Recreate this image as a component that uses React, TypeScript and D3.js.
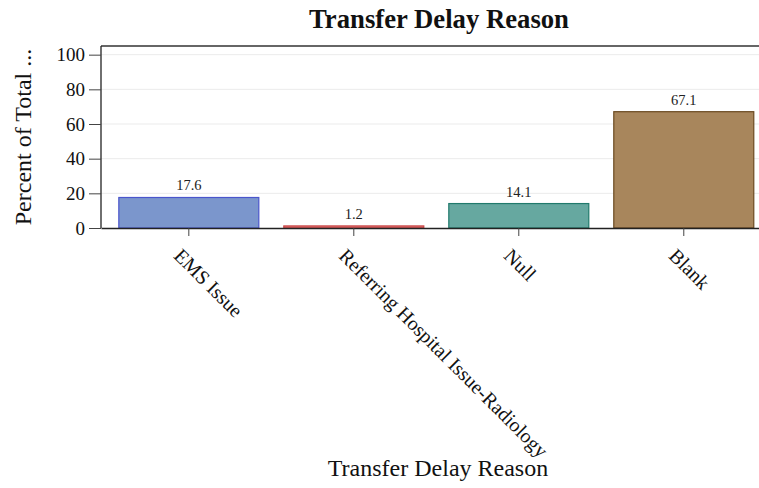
import { axisBottom, axisLeft, scaleBand, scaleLinear, select } from 'd3';
import React, { useEffect, useRef } from 'react';

const categories = ['EMS Issue', 'Referring Hospital Issue-Radiology', 'Null', 'Blank'];
const percents = [17.6, 1.2, 14.1, 67.1];
const yTicks = [0, 20, 40, 60, 80, 100];
const fills = ['#7b96cc', '#e07070', '#66a8a0', '#a8865c'];
const strokes = ['#4a55cc', '#c84545', '#217a6c', '#6b4a20'];

const W = 759;
const H = 488;
const margin = { left: 101, top: 46, bottom: 228, right: 771.6 };
const FONT = '"Liberation Serif", "Times New Roman", serif';

const App = () => {
  const svgRef = useRef<SVGSVGElement>(null);

  useEffect(() => {
    const svg = select(svgRef.current);

    const xScale = scaleBand()
      .domain(categories)
      .range([margin.left, margin.right])
      .paddingInner(0.1515)
      .paddingOuter(0.108);

    const yScale = scaleLinear().domain([0, 105]).range([margin.bottom, margin.top]);

    // grid
    svg
      .select('.grid')
      .selectAll('line')
      .data(yTicks.filter((t) => t > 0))
      .join('line')
      .attr('x1', margin.left)
      .attr('x2', margin.right)
      .attr('y1', (d) => yScale(d))
      .attr('y2', (d) => yScale(d))
      .attr('stroke', '#ebebeb')
      .attr('stroke-width', 1);

    // top border
    svg
      .select('.frame')
      .attr('x1', margin.left)
      .attr('x2', margin.right)
      .attr('y1', margin.top)
      .attr('y2', margin.top)
      .attr('stroke', '#333')
      .attr('stroke-width', 1.3);

    // bars
    svg
      .select('.bars')
      .selectAll('rect')
      .data(percents)
      .join('rect')
      .attr('x', (v, i) => xScale(categories[i]))
      .attr('y', (v) => yScale(v))
      .attr('width', xScale.bandwidth())
      .attr('height', (v) => yScale(0) - yScale(v))
      .attr('fill', (v, i) => fills[i])
      .attr('stroke', (v, i) => strokes[i])
      .attr('stroke-width', 1.2);

    svg
      .select('.values')
      .selectAll('text')
      .data(percents)
      .join('text')
      .attr('x', (v, i) => xScale(categories[i]) + xScale.bandwidth() / 2)
      .attr('y', (v) => yScale(v) - 7)
      .attr('text-anchor', 'middle')
      .attr('font-size', 14.5)
      .attr('font-family', FONT)
      .attr('fill', '#222')
      .text((v) => v.toFixed(1));

    const yAxis = axisLeft(yScale).tickValues(yTicks).tickSize(12).tickPadding(4);
    const yG = svg
      .select('.y-axis')
      .attr('transform', `translate(${margin.left},0)`)
      .attr('font-family', FONT)
      .call(yAxis);
    yG.select('.domain').attr('d', `M0,${margin.top}V${margin.bottom}`).attr('stroke', '#222').attr('stroke-width', 1.3);
    yG.selectAll('.tick line').attr('stroke', '#444');
    yG.selectAll('.tick text')
      .attr('font-size', 19)
      .attr('font-family', FONT)
      .attr('fill', '#111');

    const xAxis = axisBottom(xScale).tickSize(8).tickSizeOuter(0);
    const xG = svg
      .select('.x-axis')
      .attr('transform', `translate(0,${margin.bottom})`)
      .attr('font-family', FONT)
      .call(xAxis);
    xG.select('.domain').attr('stroke', '#222').attr('stroke-width', 1.3);
    xG.selectAll('.tick line').attr('stroke', '#444');
    xG.selectAll('.tick text')
      .attr('font-size', 20)
      .attr('font-family', FONT)
      .attr('fill', '#111')
      .attr('text-anchor', 'start')
      .attr('dominant-baseline', 'central')
      .attr('dy', null)
      .attr('y', null)
      .attr('transform', 'translate(-11,24) rotate(45)');
  }, []);

  return (
    <svg
      ref={svgRef}
      width={W}
      height={H}
      style={{ position: 'absolute', left: 0, top: 0, background: '#fff' }}
    >
      <g className="grid"></g>
      <line className="frame"></line>
      <g className="bars"></g>
      <g className="values"></g>
      <g className="x-axis"></g>
      <g className="y-axis"></g>
      <text x={439} y={28} textAnchor="middle" fontFamily={FONT} fontWeight="bold" fontSize={26.7} fill="#111">
        Transfer Delay Reason
      </text>
      <text x={438} y={476} textAnchor="middle" fontFamily={FONT} fontSize={24} fill="#111">
        Transfer Delay Reason
      </text>
      <text
        transform="translate(31,137) rotate(-90)"
        textAnchor="middle"
        fontFamily={FONT}
        fontSize={24}
        fill="#111"
      >
        Percent of Total ...
      </text>
    </svg>
  );
};

export default App;
